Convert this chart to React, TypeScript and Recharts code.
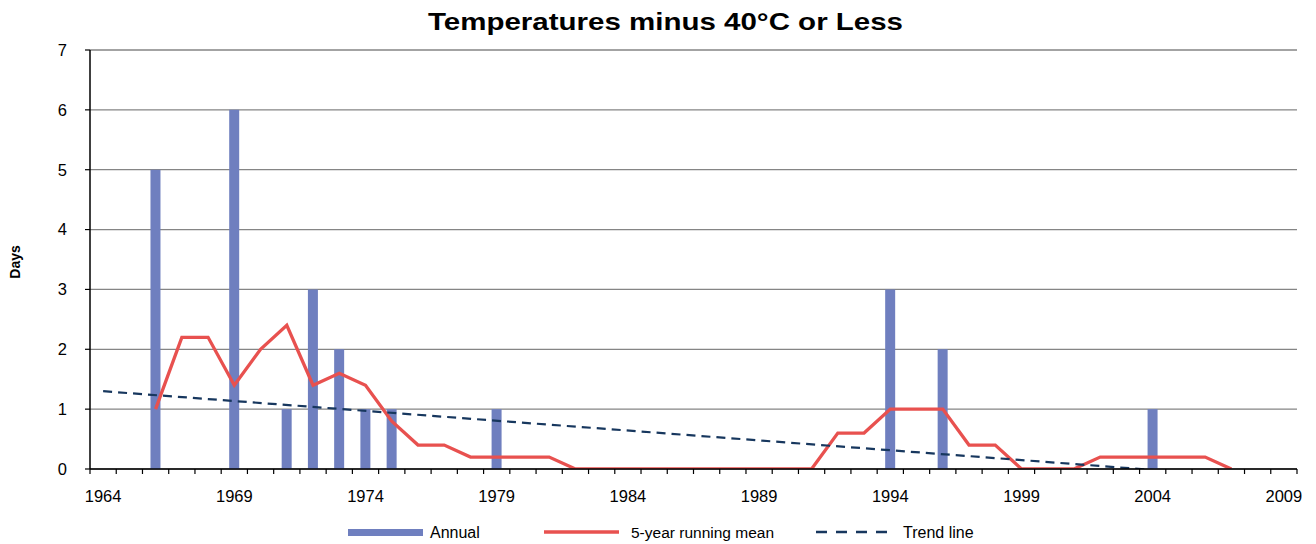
import React from 'react';
import { ComposedChart, Bar, Line, XAxis, YAxis, CartesianGrid } from 'recharts';

// categories (one per year)
const years = [
  1964, 1965, 1966, 1967, 1968, 1969, 1970, 1971, 1972, 1973,
  1974, 1975, 1976, 1977, 1978, 1979, 1980, 1981, 1982, 1983,
  1984, 1985, 1986, 1987, 1988, 1989, 1990, 1991, 1992, 1993,
  1994, 1995, 1996, 1997, 1998, 1999, 2000, 2001, 2002, 2003,
  2004, 2005, 2006, 2007, 2008, 2009,
];

// days at or below -40°C
const annual = [
  0, 0, 5, 0, 0, 6, 0, 1, 3, 2,
  1, 1, 0, 0, 0, 1, 0, 0, 0, 0,
  0, 0, 0, 0, 0, 0, 0, 0, 0, 0,
  3, 0, 2, 0, 0, 0, 0, 0, 0, 0,
  1, 0, 0, 0, 0, 0,
];

const runningMean = [
  null, null, 1.0, 2.2, 2.2, 1.4, 2.0, 2.4, 1.4, 1.6,
  1.4, 0.8, 0.4, 0.4, 0.2, 0.2, 0.2, 0.2, 0, 0,
  0, 0, 0, 0, 0, 0, 0, 0, 0.6, 0.6,
  1.0, 1.0, 1.0, 0.4, 0.4, 0, 0, 0, 0.2, 0.2,
  0.2, 0.2, 0.2, 0, null, null,
];

// trend line end points (first and last year), drawn straight between them
const trend = [
  1.3, null, null, null, null, null, null, null, null, null,
  null, null, null, null, null, null, null, null, null, null,
  null, null, null, null, null, null, null, null, null, null,
  null, null, null, null, null, null, null, null, null, null,
  null, null, null, null, null, -0.18,
];

const labelYears = [1964, 1969, 1974, 1979, 1984, 1989, 1994, 1999, 2004, 2009];
const yTicks = [0, 1, 2, 3, 4, 5, 6, 7];

const data = years.map((year, i) => ({
  year,
  annual: annual[i],
  mean: runningMean[i],
  trend: trend[i],
}));

const FONT = '"Liberation Sans", Arial, sans-serif';
const BAR_COLOR = '#6F7FBF';
const MEAN_COLOR = '#E8514F';
const TREND_COLOR = '#17375E';
const GRID_COLOR = '#858585';
const PLOT_W = 1207;
const BW = PLOT_W / years.length;

const YearTick = ({ x, y, payload, index }: any) => {
  const year = payload.value;
  return (
    <g>
      <line x1={x - BW / 2} x2={x - BW / 2} y1={y} y2={y + 5} stroke="#000" strokeWidth={1.2} />
      {index === years.length - 1 && (
        <line x1={x + BW / 2} x2={x + BW / 2} y1={y} y2={y + 5} stroke="#000" strokeWidth={1.2} />
      )}
      {labelYears.includes(year) && (
        <text x={x} y={y + 21} dy="0.71em" textAnchor="middle" fontSize={16.5} fill="#000" fontFamily={FONT}>
          {year}
        </text>
      )}
    </g>
  );
};

const App: React.FC = () => {
  return (
    <div style={{ position: 'absolute', left: 0, top: 0, width: 1316, height: 544, background: '#fff' }}>
      <ComposedChart
        width={1316}
        height={544}
        data={data}
        margin={{ top: 50, right: 19, bottom: 0, left: 10 }}
        style={{ fontFamily: FONT }}
      >
        <CartesianGrid horizontal vertical={false} stroke={GRID_COLOR} strokeWidth={1.3} />
        <XAxis
          dataKey="year"
          interval={0}
          height={75}
          tickSize={0}
          tickMargin={0}
          tickLine={false}
          axisLine={{ stroke: '#000', strokeWidth: 1.5 }}
          tick={<YearTick />}
        />
        <YAxis
          domain={[0, 7]}
          ticks={yTicks}
          allowDataOverflow
          width={80}
          tickSize={5}
          tickMargin={18}
          tickLine={{ stroke: '#000', strokeWidth: 1.2 }}
          axisLine={{ stroke: '#000', strokeWidth: 1.5 }}
          tick={{ fill: '#000', fontSize: 16.5, fontFamily: FONT }}
        />
        <YAxis
          yAxisId="border"
          orientation="right"
          width={0}
          tick={false}
          tickLine={false}
          axisLine={{ stroke: GRID_COLOR, strokeWidth: 1.5 }}
        />
        <Bar dataKey="annual" barSize={10} fill={BAR_COLOR} isAnimationActive={false} />
        <Line
          dataKey="mean"
          type="linear"
          stroke={MEAN_COLOR}
          strokeWidth={3.3}
          dot={false}
          isAnimationActive={false}
        />
        <Line
          dataKey="trend"
          type="linear"
          connectNulls
          stroke={TREND_COLOR}
          strokeWidth={2.2}
          strokeDasharray="9 6"
          dot={false}
          isAnimationActive={false}
        />
      </ComposedChart>

      <svg
        width={1316}
        height={544}
        style={{ position: 'absolute', left: 0, top: 0, pointerEvents: 'none', fontFamily: FONT }}
      >
        <text x={428} y={30} fontSize={24} fontWeight="bold" fill="#000" textLength={475} lengthAdjust="spacingAndGlyphs">
          Temperatures minus 40°C or Less
        </text>
        <text transform="translate(19.5,262) rotate(-90)" textAnchor="middle" fontSize={14} fontWeight="bold" fill="#000">
          Days
        </text>

        <rect x={348} y={529} width={75} height={7} fill={BAR_COLOR} />
        <text x={430} y={538} fontSize={16} fill="#000">Annual</text>

        <line x1={544} x2={619} y1={532} y2={532} stroke={MEAN_COLOR} strokeWidth={3.3} />
        <text x={631} y={538} fontSize={15.5} fill="#000">5-year running mean</text>

        <line x1={816} x2={890} y1={532} y2={532} stroke={TREND_COLOR} strokeWidth={2.5} strokeDasharray="11 9" />
        <text x={903} y={538} fontSize={16} fill="#000">Trend line</text>
      </svg>
    </div>
  );
};

export default App;
